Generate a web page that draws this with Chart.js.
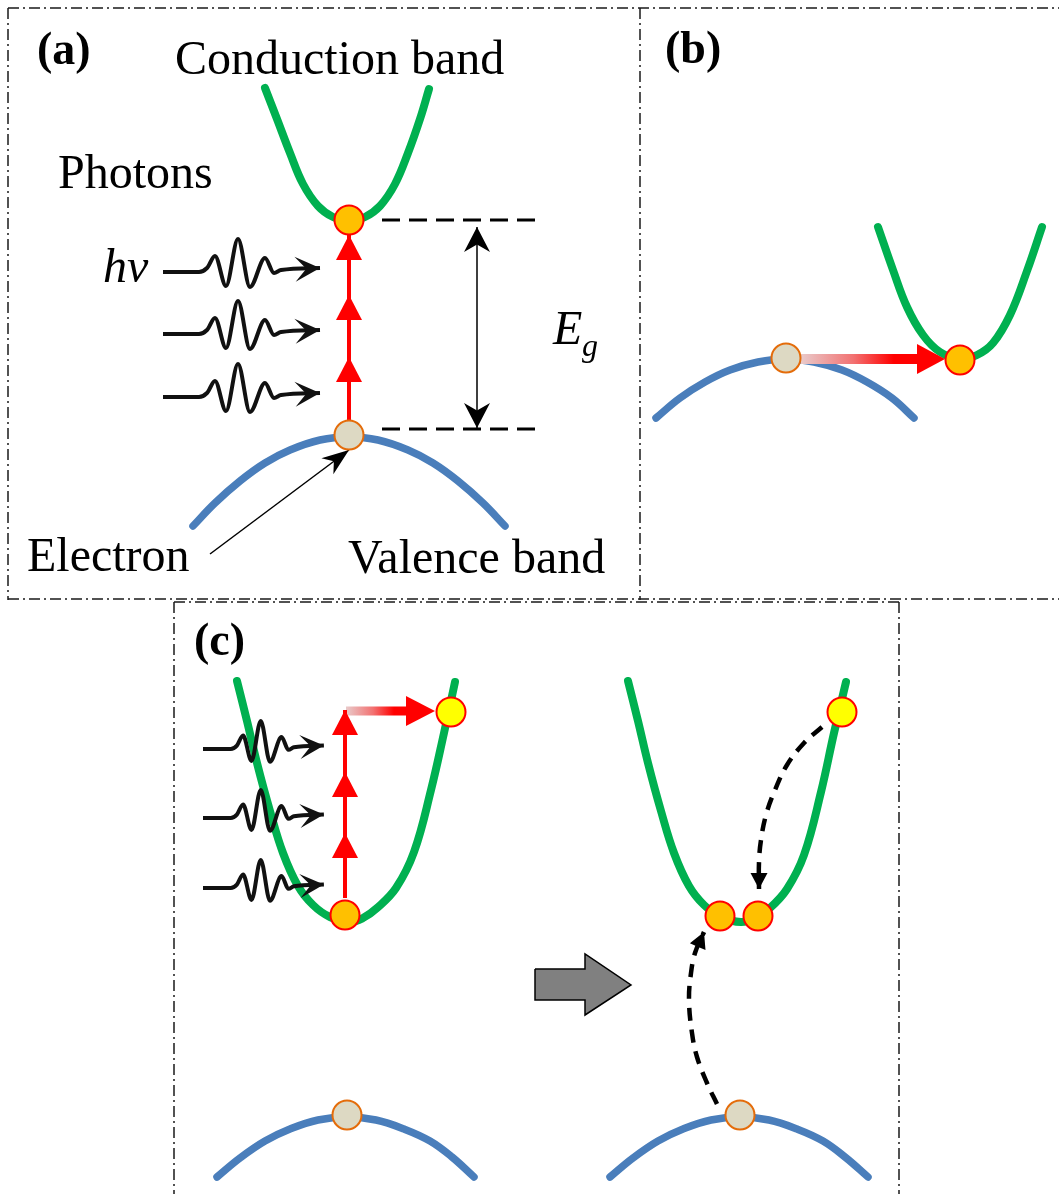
<!DOCTYPE html>
<html>
<head>
<meta charset="utf-8">
<script src="https://cdn.jsdelivr.net/npm/chart.js@4.4.1/dist/chart.umd.min.js"></script>
<style>
  html, body { margin: 0; padding: 0; background: #fff; }
  #wrap { width: 1059px; height: 1194px; }
</style>
</head>
<body>
<div id="wrap"><canvas id="bands"></canvas></div>
<script>
// values, in pixel units (y grows downward)

// conduction bands
const cbA = [[265,88],[277,119],[290,153],[303,184],[318,206],[333,217],[349,221],[365,217],[380,206],[395,184],[408,153],[420,119],[429,89]];
const cbB = [[878,227],[893,270],[907,307],[923,335],[940,352],[960,359],[977,355],[993,343],[1010,315],[1027,271],[1042,227]];
const cbC1 = [[237,681],[247,721],[257,763],[270,811],[283,853],[298,886],[313,905],[330,917],[350,922],[363,918],[377,908],[396,888],[414,852],[431,790],[444,733],[455,682]];
const cbC2 = [[628,681],[638,721],[648,763],[661,811],[674,853],[689,886],[704,905],[721,917],[741,922],[755,918],[770,908],[787,889],[804,855],[821,792],[834,733],[846,682]];

// valence bands
const vbA = [[193,526],[215,503],[240,481],[265,463],[290,450],[320,440],[349,437],[378,440],[408,450],[433,463],[458,481],[483,503],[505,526]];
const vbB = [[656,418],[680,398],[705,382],[730,370],[758,362],[786,359],[814,362],[842,370],[867,382],[892,398],[914,418]];
const vbC1 = [[217,1177],[240,1158],[265,1141],[290,1129],[318,1120],[347,1117],[376,1120],[404,1129],[430,1141],[452,1157],[474,1177]];
const vbC2 = [[610,1177],[633,1158],[658,1141],[683,1129],[711,1120],[740,1117],[769,1120],[797,1129],[823,1141],[845,1157],[868,1177]];

// electrons / holes
const orangeDots = [[349,220],[960,360],[345,915],[720,916],[758,916]];
const grayDots = [[349,435],[786,358],[347,1115],[740,1115]];
const yellowDots = [[451,712],[842,712]];

// photon absorption steps (red)
const stepsA = [[[349,420],[349,357]], [[349,382],[349,295]], [[349,321],[349,235]]];
const stepsC = [[[345,898],[345,833]], [[345,860],[345,772]], [[345,798],[345,710]]];

// horizontal hops (shaft ends at head base)
const hopB = [[801,359],[917,359]];
const hopC = [[346,711],[406,711]];

// photon wave packet, offsets from its left end
const waveShape = [[0,0],[36,0],[44,-4],[52,-16],[63,14],[75,-33],[87,15],[102,-14],[111,1],[118,-2],[157,-4]];
const waveStartsA = [[163,272],[163,334],[163,397]];
const waveStartsC = [[203,749],[203,818],[203,888]];

// band gap marks
const egTop = [[382,220],[540,220]];
const egBottom = [[382,429],[540,429]];
const egArrow = [[477,227],[477,428]];
const pointer = [[210,554],[349,450]];

// relaxation paths in (c)
const relaxHot = [[822,727],[804,743],[787,765],[775,790],[766,815],[761,840],[759,862],[759,889]];
const relaxVB = [[717,1104],[707,1083],[697,1057],[692,1033],[689,1000],[691,973],[695,953],[704,932]];

// block arrow between the two (c) sketches
const blockArrow = [[535,969],[585,969],[585,954],[631,985],[585,1015],[585,1000],[535,1000],[535,969]];

// panel frames
const frameLines = [
  [[8,8],[1059,8]], [[8,8],[8,600]], [[640,8],[640,600]], [[8,599],[1059,599]],
  [[174,602],[899,602]], [[174,602],[174,1194]], [[899,602],[899,1194]]
];

const GREEN = '#00B050';
const BLUE = '#4A7EBB';
const SERIF = '"Liberation Serif", "Times New Roman", serif';

const pts = arr => arr.map(([x, y]) => ({ x, y }));

function seg(arr, opts) {
  return Object.assign({
    type: 'line', data: pts(arr), borderColor: '#000', borderWidth: 2,
    pointRadius: 0, pointHoverRadius: 0, fill: false, tension: 0, clip: false, order: 5
  }, opts);
}

function hopGradient(c) {
  const ch = c.chart;
  const xs = ch.scales.x;
  if (!ch.chartArea || !xs) return '#f00';
  const d = c.dataset.data;
  const x0 = xs.getPixelForValue(d[0].x);
  const x1 = xs.getPixelForValue(d[d.length - 1].x);
  const g = ch.ctx.createLinearGradient(x0, 0, x1, 0);
  g.addColorStop(0, '#E9CACA');
  g.addColorStop(0.45, '#F27272');
  g.addColorStop(0.8, '#FF0000');
  g.addColorStop(1, '#FF0000');
  return g;
}

const datasets = [];
frameLines.forEach(f => datasets.push(seg(f, { borderColor: '#1a1a1a', borderWidth: 1.5, borderDash: [11, 4, 2, 4], order: 10 })));
[cbA, cbB, cbC1, cbC2].forEach(c => datasets.push(seg(c, {
  borderColor: GREEN, borderWidth: 8, tension: 0.4, borderCapStyle: 'round', borderJoinStyle: 'round', order: 8
})));
[vbA, vbB, vbC1, vbC2].forEach(c => datasets.push(seg(c, {
  borderColor: BLUE, borderWidth: 7.5, tension: 0.4, borderCapStyle: 'round', borderJoinStyle: 'round', order: 8
})));
[egTop, egBottom].forEach(l => datasets.push(seg(l, { borderWidth: 3, borderDash: [18, 9], order: 7 })));
datasets.push(seg(egArrow, {
  borderWidth: 1.5, order: 6,
  arrowStart: { len: 25, half: 13, notch: 0.3 }, arrowEnd: { len: 25, half: 13, notch: 0.3 }
}));
datasets.push(seg(pointer, { borderWidth: 1.5, order: 3, arrowEnd: { len: 27, half: 10, notch: 0.3 } }));

waveStartsA.forEach(([x0, y0]) => datasets.push(seg(waveShape.map(([dx, dy]) => [x0 + dx, y0 + dy]), {
  borderColor: '#111', borderWidth: 4, cubicInterpolationMode: 'monotone', order: 5,
  arrowEnd: { len: 25, half: 12.5, notch: 0.45, color: '#111' }
})));
waveStartsC.forEach(([x0, y0]) => datasets.push(seg(waveShape.map(([dx, dy]) => [x0 + dx * 0.77, y0 + dy * 0.85]), {
  borderColor: '#111', borderWidth: 4, cubicInterpolationMode: 'monotone', order: 5,
  arrowEnd: { len: 24, half: 12, notch: 0.45, color: '#111' }
})));

stepsA.concat(stepsC).forEach(s => datasets.push(seg(s, {
  borderColor: '#FF0000', borderWidth: 4, order: 4,
  arrowEnd: { len: 25, half: 13, notch: 0, color: '#FF0000' }
})));

datasets.push(seg(hopB, { borderColor: hopGradient, borderWidth: 10, order: 4,
  arrowEnd: { len: 28, half: 15, notch: 0, color: '#FF0000', extend: true } }));
datasets.push(seg(hopC, { borderColor: hopGradient, borderWidth: 9, order: 4,
  arrowEnd: { len: 29, half: 15, notch: 0, color: '#FF0000', extend: true } }));

[relaxHot, relaxVB].forEach(r => datasets.push(seg(r, {
  borderWidth: 4.5, borderDash: [13, 9], tension: 0.4, order: 4,
  arrowEnd: { len: 16, half: 8.5, notch: 0 }
})));

datasets.push(seg(blockArrow, { borderWidth: 1.5, backgroundColor: '#808080', fill: 'shape', order: 6 }));

function dots(arr, fillCol, edgeCol) {
  return { type: 'line', data: pts(arr), showLine: false, pointRadius: 14.5, pointHoverRadius: 14.5,
    pointBackgroundColor: fillCol, pointBorderColor: edgeCol, pointBorderWidth: 2, clip: false, order: 1 };
}
datasets.push(dots(orangeDots, '#FFC000', '#FF0000'));
datasets.push(dots(grayDots, '#DDD9C3', '#E46C0A'));
datasets.push(dots(yellowDots, '#FFFF00', '#FF0000'));

function drawHead(ctx, from, to, h) {
  const ang = Math.atan2(to.y - from.y, to.x - from.x);
  ctx.save();
  ctx.translate(to.x, to.y);
  ctx.rotate(ang);
  if (h.extend) ctx.translate(h.len, 0);
  ctx.beginPath();
  ctx.moveTo(0, 0);
  ctx.lineTo(-h.len, -h.half);
  ctx.lineTo(-h.len * (1 - (h.notch || 0)), 0);
  ctx.lineTo(-h.len, h.half);
  ctx.closePath();
  ctx.fillStyle = h.color || '#000';
  ctx.fill();
  ctx.restore();
}

const arrowHeads = {
  id: 'arrowHeads',
  afterDatasetDraw(chart, args) {
    const ds = chart.data.datasets[args.index];
    const p = args.meta.data;
    if (!p || p.length < 2) return;
    if (ds.arrowEnd) drawHead(chart.ctx, p[p.length - 2], p[p.length - 1], ds.arrowEnd);
    if (ds.arrowStart) drawHead(chart.ctx, p[1], p[0], ds.arrowStart);
  }
};

const textItems = [
  { text: '(a)', x: 37, y: 64, font: 'bold 46px ' + SERIF },
  { text: '(b)', x: 665, y: 63, font: 'bold 46px ' + SERIF },
  { text: '(c)', x: 194, y: 655, font: 'bold 46px ' + SERIF },
  { text: 'Conduction band', x: 175, y: 74, font: '48px ' + SERIF },
  { text: 'Photons', x: 58, y: 188, font: '48px ' + SERIF },
  { text: 'hv', x: 103, y: 282, font: 'italic 48px ' + SERIF },
  { text: 'E', x: 553, y: 344, font: 'italic 48px ' + SERIF },
  { text: 'g', x: 582, y: 356, font: 'italic 32px ' + SERIF },
  { text: 'Electron', x: 27, y: 571, font: '48px ' + SERIF },
  { text: 'Valence band', x: 348, y: 573, font: '48px ' + SERIF }
];

const labels = {
  id: 'labels',
  afterDatasetsDraw(chart) {
    const ctx = chart.ctx;
    const { x: xs, y: ys } = chart.scales;
    ctx.save();
    ctx.fillStyle = '#000';
    ctx.textBaseline = 'alphabetic';
    ctx.textAlign = 'left';
    textItems.forEach(t => {
      ctx.font = t.font;
      ctx.fillText(t.text, xs.getPixelForValue(t.x), ys.getPixelForValue(t.y));
    });
    ctx.restore();
  }
};

new Chart(document.getElementById('bands'), {
  type: 'line',
  data: { datasets },
  options: {
    responsive: true,
    maintainAspectRatio: false,
    animation: false,
    events: [],
    layout: { padding: 0, autoPadding: false },
    scales: {
      x: { type: 'linear', min: 0, max: 1059, display: false },
      y: { type: 'linear', min: 0, max: 1194, reverse: true, display: false }
    },
    plugins: { legend: { display: false }, tooltip: { enabled: false } }
  },
  plugins: [arrowHeads, labels]
});
</script>
</body>
</html>
